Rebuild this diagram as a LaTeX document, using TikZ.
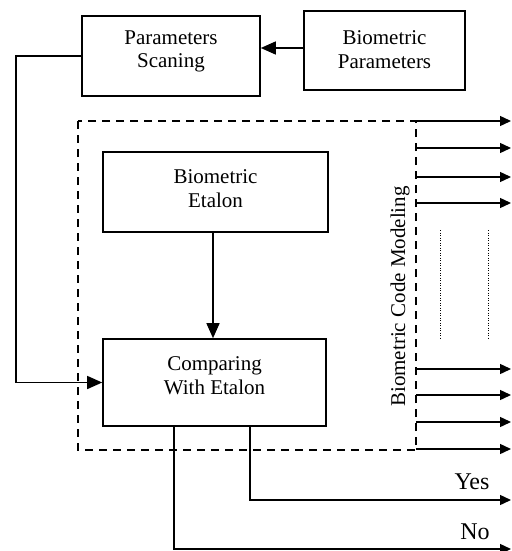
\documentclass[tikz,border=0pt]{standalone}
\usepackage{fontspec}
\setmainfont{Liberation Serif}
\usetikzlibrary{arrows.meta}
\begin{document}
\begin{tikzpicture}[x=1pt,y=-1pt,
  box/.style={draw,line width=1.6pt,inner sep=0pt},
  txt/.style={align=center,font=\fontsize{21}{23.5}\selectfont,inner sep=0pt},
  big/.style={font=\fontsize{24}{26}\selectfont,inner sep=0pt},
  conn/.style={line width=1.4pt},
  arr/.style={conn,-{Triangle[length=15pt,width=13pt]}},
  sarr/.style={conn,-{Triangle[length=11pt,width=10pt]}},
  dashbox/.style={line width=1.4pt,dash pattern=on 8pt off 6pt},
  dotline/.style={line width=0.8pt,dash pattern=on 1pt off 1.5pt}]
\useasboundingbox (0,0) rectangle (511,551);
% boxes
\node[box,minimum width=178pt,minimum height=80pt] (ps) at (171,56) {};
\node[txt] (pst) at (171,51.5) {Parameters\\Scaning};
\node[box,minimum width=161pt,minimum height=79pt] (bp) at (384.5,50.5) {};
\node[txt] (bpt) at (384.5,49.5) {Biometric\\Parameters};
\node[box,minimum width=225pt,minimum height=80pt] (et) at (215.5,192) {};
\node[txt] (ett) at (215.5,188.5) {Biometric\\Etalon};
\node[box,minimum width=223pt,minimum height=87pt] (cmp) at (214.5,382.5) {};
\node[txt] (cmpt) at (214.5,375.5) {Comparing\\With Etalon};
% dashed frame
\coordinate (dtl) at (78,121);
\coordinate (dbr) at (416,450);
\draw[dashbox] (dtl) rectangle (dbr);
\node[txt,rotate=90] (bcm) at (400,296.5) {Biometric Code Modeling};
% connectors
\draw[arr] ([yshift=2.5pt]bp.west) -- ([yshift=2.5pt]bp.west -| ps.east);
\coordinate (lc) at (16,56);
\draw[arr] (ps.west) -- (lc) |- (cmp.west);
\draw[arr] (et.south -| 213,0) -- (cmp.north -| 213,0);
% right outputs
\foreach \i/\yy in {1/121,2/148,3/177,4/203,5/369,6/395,7/422,8/449}{
  \coordinate (o\i s) at (416,\yy);
  \coordinate (o\i e) at (511,\yy);
  \draw[sarr] (o\i s) -- (o\i e);
}
\coordinate (d1a) at (440,230); \coordinate (d1b) at (440,340);
\coordinate (d2a) at (488,230); \coordinate (d2b) at (488,340);
\draw[dotline] (d1a) -- (d1b);
\draw[dotline] (d2a) -- (d2b);
% Yes / No
\coordinate (yc) at (250,500);
\coordinate (ye) at (511,500);
\coordinate (nc) at (174,549);
\coordinate (ne) at (511,549);
\draw[sarr] (cmp.south -| yc) -- (yc) -- (ye);
\draw[sarr] (cmp.south -| nc) -- (nc) -- (ne);
\node[big] (yes) at (472,482) {Yes};
\node[big] (no) at (475,532) {No};
\end{tikzpicture}
\end{document}
